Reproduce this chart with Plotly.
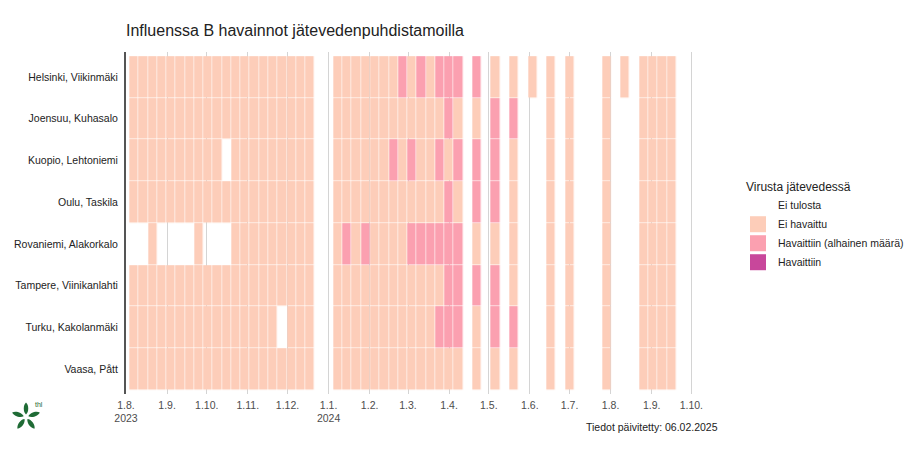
import math
import pandas as pd
import plotly.graph_objects as go

# ---------------- data ----------------
sites = ["Helsinki, Viikinmäki", "Joensuu, Kuhasalo", "Kuopio, Lehtoniemi", "Oulu, Taskila",
         "Rovaniemi, Alakorkalo", "Tampere, Viinikanlahti", "Turku, Kakolanmäki", "Vaasa, Pått"]

first_week = "2023-08-07"   # Monday of first sampled week
n_weeks = 59

# weekly status: '.' = no result, 'e' = Ei havaittu, 'a' = Havaittiin (alhainen määrä), 'h' = Havaittiin
status = {
    "Helsinki, Viikinmäki":   "eeeeeeeeeeeeeeeeeeee" + ".." + "eeeeeeeaeaeaaa" + ".a.e.e.e.e.e...e.e.eeee",
    "Joensuu, Kuhasalo":      "eeeeeeeeeeeeeeeeeeee" + ".." + "eeeeeeeeeeeeae" + ".e.a.a...e.e...e...eeee",
    "Kuopio, Lehtoniemi":     "eeeeeeeeee.eeeeeeeee" + ".." + "eeeeeeaeaeeaea" + ".a.a.e...e.e...e...eeee",
    "Oulu, Taskila":          "eeeeeeeeeeeeeeeeeeee" + ".." + "eeeeeeeeeeeeae" + ".a.a.e...e.e...e...eeee",
    "Rovaniemi, Alakorkalo":  "..e....e...eeeeeeeee" + ".." + "eaeaeeeeaaaaaa" + ".e.e.e...e.e...e...eeee",
    "Tampere, Viinikanlahti": "eeeeeeeeeeeeeeeeeeee" + ".." + "eeeeeeeeeeeeaa" + ".a.a.e...e.e...e...eeee",
    "Turku, Kakolanmäki":     "eeeeeeeeeeeeeeee.eee" + ".." + "eeeeeeeeeeeaaa" + ".e.a.a...e.e...e...eeee",
    "Vaasa, Pått":            "eeeeeeeeeeeeeeeeeeee" + ".." + "eeeeeeeeeeeeee" + ".e.e.e...e.e...e...eeee",
}

categories = ["Ei tulosta", "Ei havaittu", "Havaittiin (alhainen määrä)", "Havaittiin"]
cat_colors = ["#FFFFFF", "#FDCDB9", "#FBA0B0", "#C8479B"]

tick_dates = ["2023-08-01", "2023-09-01", "2023-10-01", "2023-11-01", "2023-12-01",
              "2024-01-01", "2024-02-01", "2024-03-01", "2024-04-01", "2024-05-01",
              "2024-06-01", "2024-07-01", "2024-08-01", "2024-09-01", "2024-10-01"]
tick_labels = ["1.8.<br>2023", "1.9.", "1.10.", "1.11.", "1.12.",
               "1.1.<br>2024", "1.2.", "1.3.", "1.4.", "1.5.",
               "1.6.", "1.7.", "1.8.", "1.9.", "1.10."]

title_text = "Influenssa B havainnot jätevedenpuhdistamoilla"
legend_title = "Virusta jätevedessä"
caption = "Tiedot päivitetty: 06.02.2025"

# ---------------- figure ----------------
weeks = pd.date_range(first_week, periods=n_weeks, freq="7D")
code = {".": None, "e": 1, "a": 2, "h": 3}
z = [[code[c] for c in status[s]] for s in sites]

c1, c2, c3 = cat_colors[1], cat_colors[2], cat_colors[3]
cscale = [[0, c1], [1/3, c1], [1/3, c2], [2/3, c2], [2/3, c3], [1, c3]]

fig = go.Figure()
fig.add_trace(go.Heatmap(
    x=weeks, y=sites, z=z, zmin=0.5, zmax=3.5, colorscale=cscale,
    showscale=False, xgap=0.6, ygap=0.6, hoverongaps=False, showlegend=False,
))

for name, col in zip(categories, cat_colors):
    fig.add_trace(go.Scatter(
        x=[None], y=[None], mode="markers", name=name,
        marker=dict(symbol="square", size=16, color=col, line=dict(width=0)),
    ))

FONT = "Liberation Sans, Arial, sans-serif"

fig.update_layout(
    width=920, height=450,
    margin=dict(l=126, r=226, t=52, b=56, autoexpand=False),
    paper_bgcolor="white", plot_bgcolor="white",
    font=dict(family=FONT, size=10.5, color="#333333"),
    title=dict(text=title_text, x=0, xref="paper", xanchor="left",
               y=1 - 30 / 450, yanchor="middle",
               font=dict(family=FONT, size=16, color="#222222")),
    legend=dict(
        title=dict(text=legend_title, font=dict(size=12, color="#222222")),
        x=(744 - 126) / 568, xanchor="left", y=0.64, yanchor="top",
        font=dict(size=10.5, color="#222222"), tracegroupgap=0,
        indentation=-6,
        bgcolor="rgba(0,0,0,0)",
    ),
    xaxis=dict(
        type="date", range=["2023-08-01", "2024-10-03"],
        tickmode="array", tickvals=tick_dates, ticktext=tick_labels,
        showgrid=True, gridcolor="#D4D4D4", gridwidth=1,
        zeroline=False, showline=False, ticks="",
        tickfont=dict(size=10.5, color="#4D4D4D"),
        ticklabelstandoff=3, automargin=False,
    ),
    yaxis=dict(
        type="category", categoryorder="array", categoryarray=sites,
        range=[7.6, -0.6], showgrid=False, zeroline=False,
        showline=True, linecolor="#555555", linewidth=2, ticks="",
        tickfont=dict(size=10.5, color="#222222"),
        ticklabelstandoff=4, automargin=False,
    ),
)

fig.add_annotation(text=caption, xref="paper", yref="paper",
                   x=(720 - 126) / 568, y=0, yshift=-33,
                   xanchor="right", yanchor="middle", showarrow=False,
                   font=dict(size=10.5, color="#222222"))

# THL logo (green flower + "thl")
green = "#1F6B35"
ax_px, ay_px = 26, 417
anchor_x = (ax_px - 126) / 568
anchor_y = (394 - ay_px) / 342
for k in range(5):
    ang = math.radians(90 + 72 * k)
    ux, uy = math.cos(ang), math.sin(ang)
    vx, vy = -uy, ux
    r0, r1, w = 2.5, 14.5, 3.0
    p0 = (r0 * ux, r0 * uy)
    p1 = (r1 * ux, r1 * uy)
    ca = (5 * ux + w * vx, 5 * uy + w * vy)
    cb = (12 * ux + w * vx, 12 * uy + w * vy)
    cc = (12 * ux - w * vx, 12 * uy - w * vy)
    cd = (5 * ux - w * vx, 5 * uy - w * vy)
    path = (f"M {p0[0]:.2f},{p0[1]:.2f} C {ca[0]:.2f},{ca[1]:.2f} {cb[0]:.2f},{cb[1]:.2f} {p1[0]:.2f},{p1[1]:.2f} "
            f"C {cc[0]:.2f},{cc[1]:.2f} {cd[0]:.2f},{cd[1]:.2f} {p0[0]:.2f},{p0[1]:.2f} Z")
    fig.add_shape(type="path", xref="paper", yref="paper",
                  xsizemode="pixel", ysizemode="pixel",
                  xanchor=anchor_x, yanchor=anchor_y, path=path,
                  fillcolor=green, line=dict(width=0), layer="above")

fig.add_annotation(text="thl", xref="paper", yref="paper",
                   x=(33 - 126) / 568, y=(394 - 404) / 342,
                   xanchor="left", yanchor="middle", showarrow=False,
                   font=dict(size=7, color=green))

fig.write_html("out.html", config={"displayModeBar": False},
               post_script="document.body.style.margin='0px';")
